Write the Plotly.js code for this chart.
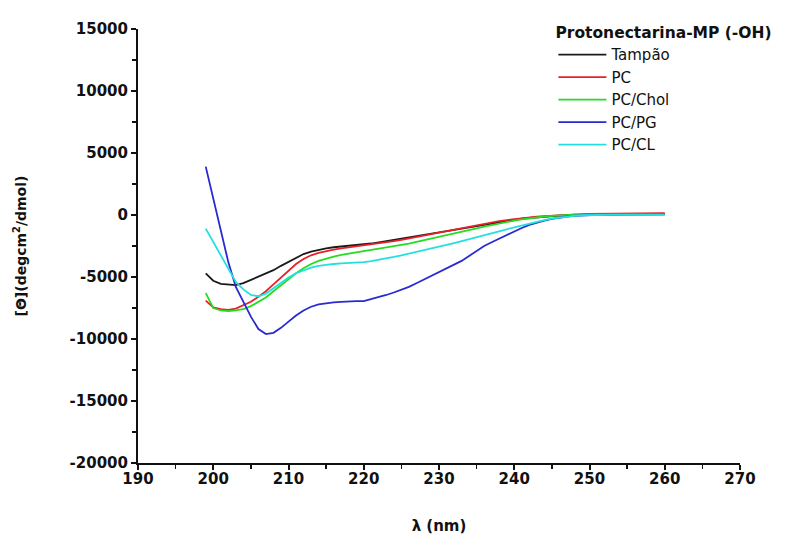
<!DOCTYPE html>
<html>
<head>
<meta charset="utf-8">
<script src="https://cdn.plot.ly/plotly-3.0.1.min.js"></script>
<style>html,body{margin:0;padding:0;background:#fff;}#chart{width:803px;height:535px;}</style>
</head>
<body>
<div id="chart"></div>
<script>
const wavelength = [199,200,201,202,203,204,205,206,207,208,209,210,211,212,213,214,215,216,217,218,219,220,221,222,223,224,225,226,227,228,229,230,231,232,233,234,235,236,237,238,239,240,241,242,243,244,245,246,247,248,249,250,251,252,253,254,255,256,257,258,259,260];

const tampao = [-4700,-5300,-5550,-5600,-5650,-5500,-5250,-5000,-4750,-4450,-4100,-3800,-3500,-3150,-2950,-2800,-2700,-2600,-2550,-2500,-2450,-2400,-2300,-2200,-2100,-2000,-1900,-1800,-1700,-1600,-1500,-1400,-1300,-1200,-1080,-960,-850,-740,-640,-540,-450,-370,-300,-240,-180,-130,-90,-50,-20,0,20,40,50,55,60,65,70,75,80,85,90,95];

const pc = [-6900,-7450,-7600,-7650,-7550,-7300,-7000,-6600,-6150,-5600,-5050,-4500,-3950,-3550,-3250,-3050,-2900,-2800,-2700,-2620,-2550,-2480,-2400,-2300,-2200,-2100,-2000,-1900,-1780,-1660,-1540,-1420,-1300,-1180,-1060,-940,-820,-710,-600,-500,-410,-330,-260,-200,-140,-90,-50,-10,20,50,70,90,100,105,110,115,120,125,130,135,140,150];

const pcChol = [-6300,-7500,-7700,-7750,-7700,-7600,-7350,-7000,-6650,-6150,-5650,-5150,-4700,-4300,-3950,-3700,-3500,-3350,-3220,-3120,-3030,-2950,-2850,-2750,-2650,-2550,-2430,-2300,-2170,-2040,-1900,-1770,-1630,-1490,-1350,-1210,-1070,-930,-800,-680,-560,-450,-350,-260,-180,-120,-70,-30,0,20,30,40,45,50,50,55,55,60,60,60,60,60];

const pcPg = [3900,1400,-1200,-3800,-5800,-7000,-8200,-9200,-9600,-9500,-9100,-8600,-8100,-7700,-7400,-7200,-7100,-7050,-7000,-6950,-6950,-6950,-6800,-6650,-6450,-6250,-6050,-5800,-5500,-5200,-4900,-4600,-4300,-4000,-3700,-3300,-2900,-2500,-2200,-1900,-1600,-1300,-1050,-800,-600,-450,-320,-200,-120,-60,-20,0,10,20,25,30,35,40,40,45,45,50];

const pcCl = [-1100,-2200,-3300,-4400,-5400,-6000,-6450,-6550,-6350,-5900,-5450,-5050,-4700,-4450,-4250,-4100,-4000,-3950,-3900,-3880,-3850,-3800,-3720,-3620,-3500,-3380,-3250,-3120,-2980,-2840,-2700,-2560,-2410,-2260,-2110,-1950,-1790,-1630,-1470,-1310,-1150,-990,-830,-680,-540,-410,-300,-200,-120,-60,-20,0,10,15,20,20,25,25,30,30,30,30];

const seriesNames = ['Tampão','PC','PC/Chol','PC/PG','PC/CL'];
const seriesValues = [tampao, pc, pcChol, pcPg, pcCl];
const seriesColors = ['#1a1a1a','#e8202a','#22dd22','#2a2ad0','#22e0e0'];

const xTicks = [190,200,210,220,230,240,250,260,270];
const yTicks = [-20000,-15000,-10000,-5000,0,5000,10000,15000];

const traces = seriesNames.map((n,i)=>({
  x: wavelength, y: seriesValues[i], name: n, type:'scatter', mode:'lines',
  line:{color:seriesColors[i], width:1.8}
}));

const fam = 'DejaVu Sans, Verdana, sans-serif';
const tickFont = {family:fam, size:15, color:'#111', weight:'bold'};

const layout = {
  width:803, height:535,
  margin:{l:138, r:63, t:29, b:72},
  paper_bgcolor:'#fff', plot_bgcolor:'#fff',
  showlegend:true,
  legend:{
    x:0.69, y:1.025, xanchor:'left', yanchor:'top',
    bgcolor:'rgba(0,0,0,0)',
    font:{family:fam, size:15, color:'#111'},
    title:{text:'<b>Protonectarina-MP (-OH)</b>', font:{family:fam, size:15.5, color:'#111'}},
    tracegroupgap:0, itemwidth:48
  },
  xaxis:{
    range:[190,270], tickvals:xTicks, ticktext:xTicks.map(String),
    showline:true, linecolor:'#111', linewidth:2, showgrid:false, zeroline:false,
    ticks:'outside', ticklen:5, tickwidth:2, tickcolor:'#111',
    minor:{dtick:5, ticks:'outside', ticklen:4, tickwidth:1.5, tickcolor:'#111', showgrid:false},
    tickfont:tickFont, ticklabelstandoff:-4,
    title:{text:'<b>λ (nm)</b>', font:{family:fam, size:15, color:'#111'}, standoff:33}
  },
  yaxis:{
    range:[-20000,15000], tickvals:yTicks, ticktext:yTicks.map(String),
    showline:true, linecolor:'#111', linewidth:2, showgrid:false, zeroline:false,
    ticks:'outside', ticklen:5, tickwidth:2, tickcolor:'#111',
    minor:{dtick:2500, ticks:'outside', ticklen:4, tickwidth:1.5, tickcolor:'#111', showgrid:false},
    tickfont:tickFont,
    title:{text:'<b>[Θ](degcm<sup>2</sup>/dmol)</b>', font:{family:fam, size:14, color:'#111'}, standoff:40}
  }
};

Plotly.newPlot('chart', traces, layout, {displayModeBar:false, staticPlot:true});
</script>
</body>
</html>
